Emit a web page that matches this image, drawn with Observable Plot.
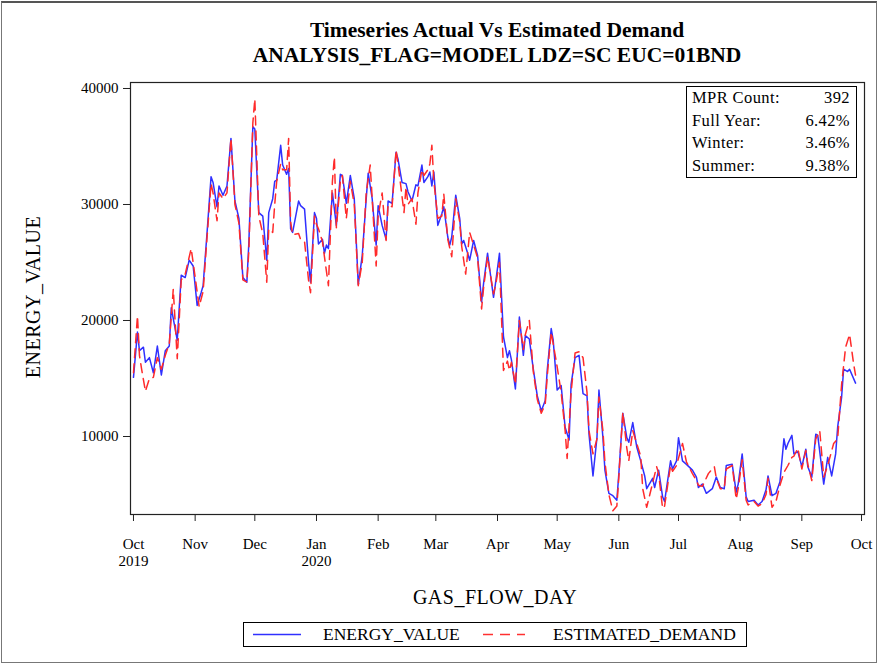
<!DOCTYPE html>
<html><head><meta charset="utf-8">
<script src="https://cdn.jsdelivr.net/npm/d3@7"></script>
<script src="https://cdn.jsdelivr.net/npm/@observablehq/plot@0.6"></script>
<style>
body{margin:0;background:#fff;}
#wrap{position:relative;width:879px;height:666px;overflow:hidden;font-family:"Liberation Serif","Times New Roman",serif;color:#000;background:#fff;}
#border{position:absolute;left:1px;top:1px;width:874px;height:659px;border:1px solid #777;border-top:2px solid #555;}
.ttl{position:absolute;left:130px;width:734px;text-align:center;font-weight:bold;font-size:21.5px;white-space:nowrap;}
#chart{position:absolute;left:0;top:0;}
.axlab{position:absolute;font-size:20px;letter-spacing:0.5px;white-space:nowrap;}
#stats{position:absolute;left:686px;top:86px;width:169px;height:90px;border:1px solid #000;background:#fff;font-size:16.5px;letter-spacing:0.4px;}
#stats .r{position:absolute;left:5px;right:6px;height:22px;}
#stats .r span:last-child{position:absolute;right:0;}
#legend{position:absolute;left:243px;top:622px;width:502px;height:23px;border:1px solid #000;font-size:17.5px;}
#legend span{position:absolute;top:1px;}
</style></head><body>
<div id="wrap">
 <div id="border"></div>
 <div class="ttl" style="top:18px">Timeseries Actual Vs Estimated Demand</div>
 <div class="ttl" style="top:43px">ANALYSIS_FLAG=MODEL LDZ=SC EUC=01BND</div>
 <div id="chart"></div>
 <div class="axlab" id="ylab" style="left:33px;top:297px;transform:translate(-50%,-50%) rotate(-90deg);">ENERGY_VALUE</div>
 <div class="axlab" id="xlab" style="left:495px;top:597px;transform:translate(-50%,-50%);">GAS_FLOW_DAY</div>
 <div id="stats"></div>
 <div id="legend">
  <svg width="502" height="23" style="position:absolute;left:0;top:0">
   <line x1="9" x2="57" y1="11.5" y2="11.5" stroke="#3030ff" stroke-width="1.5"/>
   <line x1="239" x2="281" y1="11.5" y2="11.5" stroke="#ff3030" stroke-width="1.5" stroke-dasharray="10,7"/>
  </svg>
  <span style="left:79px">ENERGY_VALUE</span>
  <span style="left:309px">ESTIMATED_DEMAND</span>
 </div>
</div>
<script>
// Day offsets from 2019-10-01 and values
const actualDays = [0,2,3,5,6,8,10,12,14,16,18,19,22,24,26,28,30,32,34,35,37,39,40,42,43,45,47,49,51,53,55,57,58,60,61,63,65,67,68,70,71,72,74,75,77,78,79,80,83,84,86,88,89,91,92,93,95,96,97,98,100,102,104,105,107,109,111,113,115,117,118,120,122,123,125,127,128,130,132,133,135,137,138,140,142,143,145,146,148,149,150,151,153,155,156,158,159,160,162,164,165,166,168,169,171,173,175,176,178,181,182,184,186,188,189,190,192,194,196,197,199,201,203,205,207,208,210,211,213,215,217,219,220,222,224,226,228,229,231,233,234,236,237,239,241,243,244,246,248,249,251,253,255,257,258,261,262,264,266,267,270,271,273,274,276,278,281,283,284,286,288,291,293,295,297,298,301,303,304,306,308,309,312,314,316,318,319,321,323,325,327,328,329,331,332,334,336,338,339,341,343,344,347,349,351,353,354,356,357,359,360,363];
const actualVals = [15100,19000,17400,17700,16400,16800,15500,17800,15300,17400,17800,21100,18300,23900,23700,25200,24700,21300,22400,23000,27600,32400,31900,29800,31600,30800,31600,35700,30300,28800,23700,23300,26700,36700,36500,29300,29000,25200,29300,30500,32000,32100,35100,33400,32600,33100,27900,27600,30300,29900,29600,25000,23300,29300,28800,26600,27000,25800,26500,26200,31000,28200,32600,32500,30100,32500,30500,23100,25600,30500,32700,30500,26500,29900,28200,27000,30300,30100,34500,33900,31900,31800,31100,30300,31700,31600,33400,31900,32400,32800,31600,32800,28200,29200,29800,27200,26500,27200,30800,28800,26600,26900,25800,25200,26900,25600,21600,23200,25800,22000,23200,25800,18600,16800,17400,16600,14100,20300,17000,18700,18400,15800,13500,12200,13100,15700,19300,18300,14000,14400,10800,9700,14500,16800,17000,13700,13500,10200,6600,9900,14000,9900,7100,5100,4900,4500,6800,12000,9900,9500,11200,9100,7900,6600,5500,6400,5600,7100,4800,4400,7900,7200,7900,9900,7900,7600,7100,6500,5600,5900,5100,5500,6500,5600,5500,7500,7600,5200,5900,8500,4800,4400,4500,4100,4400,5400,6600,4900,5100,6100,9800,8900,9400,10100,8500,8700,7400,8900,7400,6500,10200,10100,5900,8200,6600,8500,10800,13400,15800,15600,15800,14600];

const estimatedDays = [0,2,3,4,6,8,10,12,14,16,18,20,22,24,26,29,30,33,35,37,39,40,42,43,45,47,49,51,53,55,57,58,60,61,63,65,67,68,70,71,72,74,75,77,78,79,80,83,84,86,88,89,91,92,93,95,96,98,100,101,102,104,105,107,109,111,113,115,117,119,120,122,123,125,127,128,130,132,133,136,137,138,140,142,143,145,146,148,149,150,151,153,155,156,158,160,162,164,165,167,169,171,173,175,176,178,181,182,184,186,188,189,190,192,194,196,197,199,201,203,205,207,208,210,211,213,215,217,218,220,222,224,226,228,229,231,233,234,236,237,239,241,243,244,246,248,249,251,253,255,256,258,261,263,264,266,267,270,271,273,276,278,281,283,284,286,289,292,293,295,297,298,301,303,304,306,308,309,312,314,316,318,319,321,323,325,327,329,331,332,334,336,338,339,341,343,345,347,349,352,354,356,358,360,362,363];
const estimatedVals = [15500,20400,17000,15900,13900,15000,15100,16800,15800,17000,18000,22700,16700,23500,24000,26200,25000,21200,22500,27200,31800,31000,28600,31000,30500,31000,35700,30000,28400,23500,23300,26000,37000,39100,29000,27500,23300,27900,27600,30000,32000,33500,33000,33000,35700,28500,27400,27500,27000,26800,23500,22400,29000,28300,27900,26800,25500,23000,32000,34100,28000,32000,32500,28800,32000,30000,23000,25000,31000,33400,30500,24700,29000,31000,26900,30000,29800,34700,33500,29300,31500,30000,30500,28300,31000,33000,32500,33000,33500,35100,32000,28800,29000,30900,27000,25500,30500,28500,26400,24000,27600,26500,25400,21000,22800,25500,22300,23000,25000,15700,16500,15700,16400,14500,20000,17500,18800,20000,15600,13200,12000,12800,15200,19000,18000,16000,13800,10500,8100,13800,17200,17300,16800,13800,10500,8500,9800,13400,10500,7800,5000,3600,4000,6500,12100,9000,7900,10500,9400,8300,5500,3900,6000,7400,6800,3800,4000,7500,7000,7500,9400,7800,6800,6200,5800,5700,6800,7400,6400,5500,5500,7200,7500,4600,5500,8000,4500,4100,4400,4000,4200,5000,6400,3900,4400,5800,6900,7500,8200,8300,9000,7200,8800,7600,6200,9800,10500,6500,7500,9400,9800,14500,17700,18800,16300,15300];

const yTicks = [10000,20000,30000,40000];
const statLabels = ["MPR Count:","Full Year:","Winter:","Summer:"];
const statValues = ["392","6.42%","3.46%","9.38%"];

const start = Date.UTC(2019,9,1);
const toDate = d => new Date(start + d*86400000);
const actual = actualDays.map((d,i)=>({date:toDate(d), value:actualVals[i]}));
const estimated = estimatedDays.map((d,i)=>({date:toDate(d), value:estimatedVals[i]}));
const monthTicks = d3.utcMonth.range(new Date(Date.UTC(2019,9,1)), new Date(Date.UTC(2020,9,2)));
const yearTicks = monthTicks.filter((d,i)=> i===0 || d.getUTCMonth()===0);

const chart = Plot.plot({
  width:879, height:666,
  marginLeft:130, marginRight:15, marginTop:82, marginBottom:152,
  style:{fontFamily:"'Liberation Serif','Times New Roman',serif", fontSize:"15px", color:"#000", background:"transparent", overflow:"visible"},
  x:{type:"utc", domain:[toDate(-1.5), toDate(367.5)]},
  y:{domain:[3276,40517]},
  marks:[
    Plot.axisX({ticks:monthTicks, tickSize:7, tickPadding:17, tickFormat:d3.utcFormat("%b"), label:null, fontSize:15, stroke:"#222"}),
    Plot.axisX({ticks:yearTicks, tickSize:0, tickPadding:41, tickFormat:d3.utcFormat("%Y"), label:null, fontSize:15}),
    Plot.axisY({ticks:yTicks, tickSize:7, tickPadding:5, tickFormat:d=>String(d), label:null, fontSize:15, stroke:"#222"}),
    Plot.lineY(actual, {x:"date", y:"value", stroke:"#3030ff", strokeWidth:1.5}),
    Plot.lineY(estimated, {x:"date", y:"value", stroke:"#ff2a2a", strokeWidth:1.5, strokeDasharray:"9,6"}),
    Plot.frame({stroke:"#222", strokeWidth:1.2})
  ]
});
document.getElementById("chart").appendChild(chart);

const stats = document.getElementById("stats");
statLabels.forEach((l,i)=>{
  const r = document.createElement("div");
  r.className="r"; r.style.top = (1 + i*22.5) + "px";
  r.innerHTML = `<span>${l}</span><span>${statValues[i]}</span>`;
  stats.appendChild(r);
});
</script>
</body></html>
